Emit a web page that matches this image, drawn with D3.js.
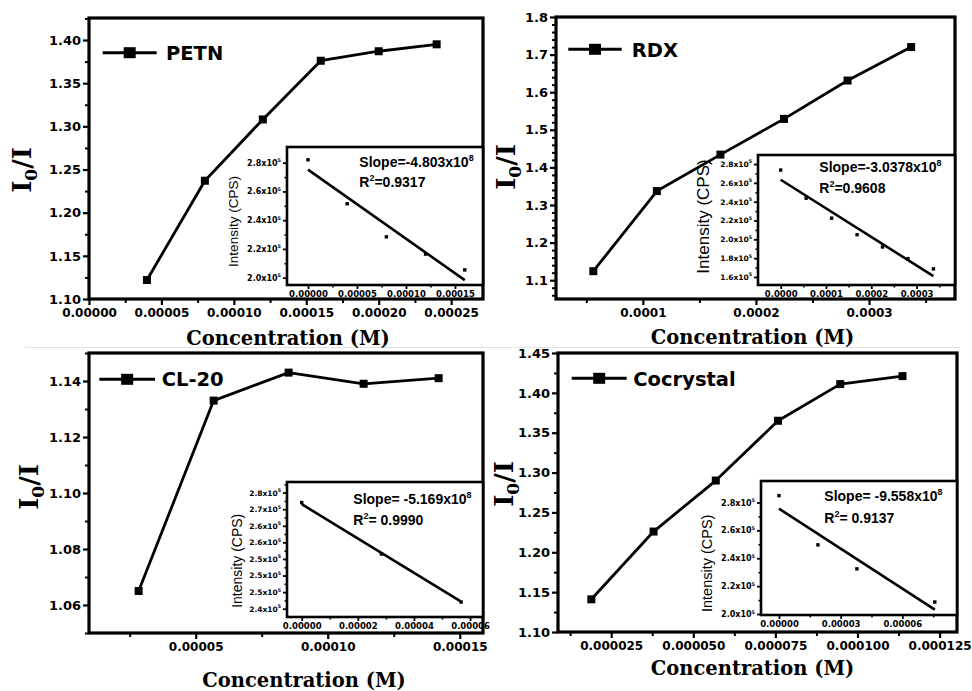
<!DOCTYPE html>
<html>
<head>
<meta charset="utf-8">
<script src="https://cdn.jsdelivr.net/npm/d3@7"></script>
<style>
  body { margin: 0; background: #fff; }
  svg { display: block; }
</style>
</head>
<body>
<svg id="chart" width="972" height="691"></svg>
<script>
// ---------- PETN ----------
const petnConc = [0.00004, 0.00008, 0.00012, 0.00016, 0.00020, 0.00024];
const petnRatio = [1.122, 1.237, 1.308, 1.376, 1.387, 1.395];
const petnXTicks = [0, 0.00005, 0.00010, 0.00015, 0.00020, 0.00025];
const petnXMinor = [0.000025, 0.000075, 0.000125, 0.000175, 0.000225];
const petnYTicks = [1.10, 1.15, 1.20, 1.25, 1.30, 1.35, 1.40];
const petnYMinor = [1.125, 1.175, 1.225, 1.275, 1.325, 1.375, 1.425];
const petnFitConc = [0, 0.00004, 0.00008, 0.00012, 0.00016];
const petnFitIntensity = [282000, 251400, 228400, 216400, 205400];
const petnFitXTicks = [0, 0.00005, 0.00010, 0.00015];
const petnFitXMinor = [0.000025, 0.000075, 0.000125];
const petnFitYTicks = [200000, 220000, 240000, 260000, 280000];
const petnFitYMinor = [210000, 230000, 250000, 270000];
const petnSlope = "-4.803";
const petnR2 = "0.9317";

// ---------- RDX ----------
const rdxConc = [0.0000562, 0.0001124, 0.0001686, 0.0002248, 0.0002810, 0.0003372];
const rdxRatio = [1.124, 1.337, 1.434, 1.529, 1.631, 1.720];
const rdxXTicks = [0.0001, 0.0002, 0.0003];
const rdxXMinor = [0.00005, 0.00015, 0.00025, 0.00035];
const rdxYTicks = [1.1, 1.2, 1.3, 1.4, 1.5, 1.6, 1.7, 1.8];
const rdxYMinor = [1.06, 1.08, 1.12, 1.14, 1.16, 1.18, 1.22, 1.24, 1.26, 1.28, 1.32, 1.34, 1.36, 1.38,
                   1.42, 1.44, 1.46, 1.48, 1.52, 1.54, 1.56, 1.58, 1.62, 1.64, 1.66, 1.68, 1.72, 1.74, 1.76, 1.78];
const rdxFitConc = [0, 0.0000562, 0.0001124, 0.0001686, 0.0002248, 0.0002810, 0.0003372];
const rdxFitIntensity = [273600, 243700, 222500, 204900, 191900, 179500, 168600];
const rdxFitXTicks = [0, 0.0001, 0.0002, 0.0003];
const rdxFitXMinor = [0.00005, 0.00015, 0.00025, 0.00035];
const rdxFitYTicks = [160000, 180000, 200000, 220000, 240000, 260000, 280000];
const rdxFitYMinor = [170000, 190000, 210000, 230000, 250000, 270000];
const rdxSlope = "-3.0378";
const rdxR2 = "0.9608";

// ---------- CL-20 ----------
const cl20Conc = [0.0000284, 0.0000568, 0.0000852, 0.0001136, 0.0001420];
const cl20Ratio = [1.065, 1.133, 1.143, 1.139, 1.141];
const cl20XTicks = [0.00005, 0.00010, 0.00015];
const cl20XMinor = [0.000025, 0.000075, 0.000125];
const cl20YTicks = [1.06, 1.08, 1.10, 1.12, 1.14];
const cl20YMinor = [1.05, 1.07, 1.09, 1.11, 1.13, 1.15];
const cl20FitConc = [0, 0.0000284, 0.0000568];
const cl20FitIntensity = [272000, 256500, 242000];
const cl20FitXTicks = [0, 0.00002, 0.00004, 0.00006];
const cl20FitXMinor = [0.00001, 0.00003, 0.00005];
const cl20FitYTicks = [240000, 245000, 250000, 255000, 260000, 265000, 270000, 275000];
const cl20FitYTickLabels = ["2.4", "2.5", "2.5", "2.5", "2.6", "2.6", "2.7", "2.8"];
const cl20FitYMinor = [242500, 247500, 252500, 257500, 262500, 267500, 272500, 277500];
const cl20Slope = "-5.169";
const cl20R2 = "0.9990";

// ---------- Cocrystal ----------
const cocConc = [0.00001895, 0.0000379, 0.00005685, 0.0000758, 0.00009475, 0.0001137];
const cocRatio = [1.141, 1.226, 1.290, 1.365, 1.411, 1.421];
const cocXTicks = [0.000025, 0.000050, 0.000075, 0.000100, 0.000125];
const cocXMinor = [0.0000125, 0.0000375, 0.0000625, 0.0000875, 0.0001125];
const cocYTicks = [1.10, 1.15, 1.20, 1.25, 1.30, 1.35, 1.40, 1.45];
const cocYMinor = [1.125, 1.175, 1.225, 1.275, 1.325, 1.375, 1.425];
const cocFitConc = [0, 0.00001895, 0.0000379, 0.0000758];
const cocFitIntensity = [284900, 249600, 232400, 208600];
const cocFitXTicks = [0, 0.00003, 0.00006];
const cocFitXMinor = [0.000015, 0.000045, 0.000075];
const cocFitYTicks = [200000, 220000, 240000, 260000, 280000];
const cocFitYMinor = [210000, 230000, 250000, 270000];
const cocSlope = "-9.558";
const cocR2 = "0.9137";

const SANS = "'DejaVu Sans', sans-serif";
const ARIAL = "'Liberation Sans', Arial, sans-serif";
const SERIF = "'DejaVu Serif', serif";

const svg = d3.select("#chart");

// faint page seam under the top row
svg.append("line").attr("x1", 25).attr("x2", 960).attr("y1", 347.5).attr("y2", 347.5)
  .attr("stroke", "#e2e2e2").attr("stroke-width", 1);

function styleAxis(sel, w) {
  sel.select(".domain").remove();
  sel.selectAll(".tick line").attr("stroke", "#000").attr("stroke-width", w);
}

function drawPanel(p) {
  const g = svg.append("g");
  const f = p.frame;
  const x = d3.scaleLinear().domain(p.xDomain).range([f.l, f.r]);
  const y = d3.scaleLinear().domain(p.yDomain).range([f.b, f.t]);

  // axes: minor then major ticks, pointing outward
  g.append("g").attr("transform", `translate(0,${f.b})`)
    .call(d3.axisBottom(x).tickValues(p.xMinor).tickSize(4).tickFormat(""))
    .call(s => styleAxis(s, 2));
  g.append("g").attr("transform", `translate(0,${f.b})`)
    .call(d3.axisBottom(x).tickValues(p.xTicks).tickSize(6).tickPadding(3).tickFormat(p.xFmt))
    .call(s => styleAxis(s, 2.2))
    .call(s => s.selectAll("text").attr("font-family", SANS).attr("font-weight", "bold")
      .attr("font-size", p.xFontSize).attr("fill", "#000"));
  g.append("g").attr("transform", `translate(${f.l},0)`)
    .call(d3.axisLeft(y).tickValues(p.yMinor).tickSize(4).tickFormat(""))
    .call(s => styleAxis(s, 2));
  g.append("g").attr("transform", `translate(${f.l},0)`)
    .call(d3.axisLeft(y).tickValues(p.yTicks).tickSize(6).tickPadding(2).tickFormat(p.yFmt))
    .call(s => styleAxis(s, 2.2))
    .call(s => s.selectAll("text").attr("font-family", SANS).attr("font-weight", "bold")
      .attr("font-size", 13).attr("fill", "#000"));

  g.append("rect").attr("x", f.l).attr("y", f.t).attr("width", f.r - f.l).attr("height", f.b - f.t)
    .attr("fill", "none").attr("stroke", "#000").attr("stroke-width", 3.2);

  const pts = p.conc.map((c, i) => [c, p.ratio[i]]);
  g.append("path").datum(pts)
    .attr("d", d3.line().x(d => x(d[0])).y(d => y(d[1])))
    .attr("fill", "none").attr("stroke", "#000").attr("stroke-width", 2.8).attr("stroke-linejoin", "round");
  g.selectAll("rect.mk").data(pts).join("rect").attr("class", "mk")
    .attr("x", d => x(d[0]) - 4).attr("y", d => y(d[1]) - 4)
    .attr("width", 8).attr("height", 8).attr("fill", "#000");

  // legend
  const L = p.legend;
  g.append("line").attr("x1", L.x1).attr("x2", L.x2).attr("y1", L.y).attr("y2", L.y)
    .attr("stroke", "#000").attr("stroke-width", 3);
  g.append("rect").attr("x", (L.x1 + L.x2) / 2 - 6).attr("y", L.y - 5.5)
    .attr("width", 12).attr("height", 11).attr("fill", "#000");
  g.append("text").attr("x", L.tx).attr("y", L.ty).text(p.name)
    .attr("font-family", SANS).attr("font-weight", "bold").attr("font-size", 19.5).attr("fill", "#000");

  // axis titles
  g.append("text").attr("x", p.xTitle[0]).attr("y", p.xTitle[1]).attr("text-anchor", "middle")
    .attr("font-family", SERIF).attr("font-weight", "bold").attr("font-size", 19.5).attr("fill", "#000")
    .text("Concentration (M)");
  const yt = g.append("text")
    .attr("transform", `translate(${p.yTitle[0]},${p.yTitle[1]}) rotate(-90)`)
    .attr("text-anchor", "middle")
    .attr("font-family", SERIF).attr("font-weight", "bold").attr("font-size", 26).attr("fill", "#000");
  yt.append("tspan").text("I");
  yt.append("tspan").attr("font-size", 17).attr("dy", 6).text("0");
  yt.append("tspan").attr("dy", -6).text("/I");

  drawInset(g, p.inset);
}

function drawInset(g, q) {
  const f = q.frame;
  const x = d3.scaleLinear().domain(q.xDomain).range([f.l, f.r]);
  const y = d3.scaleLinear().domain(q.yDomain).range([f.b, f.t]);

  g.append("rect").attr("x", f.l).attr("y", f.t).attr("width", f.r - f.l).attr("height", f.b - f.t)
    .attr("fill", "#fff");

  g.append("g").attr("transform", `translate(0,${f.b})`)
    .call(d3.axisBottom(x).tickValues(q.xMinor).tickSize(2.5).tickFormat(""))
    .call(s => styleAxis(s, 1.6));
  g.append("g").attr("transform", `translate(0,${f.b})`)
    .call(d3.axisBottom(x).tickValues(q.xTicks).tickSize(4).tickPadding(1.5).tickFormat(q.xFmt))
    .call(s => styleAxis(s, 1.8))
    .call(s => s.selectAll("text").attr("font-family", SANS).attr("font-weight", "bold")
      .attr("font-size", 8.5).attr("fill", "#000"));
  g.append("g").attr("transform", `translate(${f.l},0)`)
    .call(d3.axisLeft(y).tickValues(q.yMinor).tickSize(2.5).tickFormat(""))
    .call(s => styleAxis(s, 1.6));
  const ya = g.append("g").attr("transform", `translate(${f.l},0)`)
    .call(d3.axisLeft(y).tickValues(q.yTicks).tickSize(4).tickPadding(2).tickFormat(""))
    .call(s => styleAxis(s, 1.8));
  ya.selectAll(".tick text").each(function (d, i) {
    const t = d3.select(this).text(null)
      .attr("font-family", SANS).attr("font-weight", "bold").attr("font-size", q.yFontSize).attr("fill", "#000");
    const m = q.yLabels ? q.yLabels[i] : (d / 1e5).toFixed(1);
    t.append("tspan").text(m + "x10");
    t.append("tspan").attr("font-size", q.yFontSize * 0.62).attr("dy", -3.5).text("5");
  });

  g.append("rect").attr("x", f.l).attr("y", f.t).attr("width", f.r - f.l).attr("height", f.b - f.t)
    .attr("fill", "none").attr("stroke", "#000").attr("stroke-width", 2.6);

  // fitted line from the stated slope, through the mean of the points
  const slope = +q.slope * 1e8;
  const mx = d3.mean(q.conc), my = d3.mean(q.intensity);
  const b0 = my - slope * mx;
  const xEnd = d3.max(q.conc);
  g.append("line")
    .attr("x1", x(0)).attr("y1", y(b0))
    .attr("x2", x(xEnd)).attr("y2", y(b0 + slope * xEnd))
    .attr("stroke", "#000").attr("stroke-width", 2.6);

  g.selectAll(null).data(q.conc.map((c, i) => [c, q.intensity[i]])).join("rect")
    .attr("x", d => x(d[0]) - 1.7).attr("y", d => y(d[1]) - 1.7)
    .attr("width", 3.4).attr("height", 3.4).attr("fill", "#000");

  // inset axis title
  g.append("text")
    .attr("transform", `translate(${q.yTitle[0]},${q.yTitle[1]}) rotate(-90)`)
    .attr("text-anchor", "middle").attr("dominant-baseline", "central")
    .attr("font-family", ARIAL).attr("font-size", q.yTitleSize).attr("fill", "#000")
    .text("Intensity (CPS)");

  // fit annotation
  const a1 = g.append("text").attr("x", q.note[0]).attr("y", q.note[1])
    .attr("font-family", ARIAL).attr("font-weight", "bold").attr("font-size", 14).attr("fill", "#000");
  a1.append("tspan").text("Slope=" + q.gap + q.slope + "x10");
  a1.append("tspan").attr("font-size", 9).attr("dy", -6).text("8");
  const a2 = g.append("text").attr("x", q.note[0]).attr("y", q.note[2])
    .attr("font-family", ARIAL).attr("font-weight", "bold").attr("font-size", 14).attr("fill", "#000");
  a2.append("tspan").text("R");
  a2.append("tspan").attr("font-size", 9).attr("dy", -6).text("2");
  a2.append("tspan").attr("dy", 6).text("=" + q.gap + q.r2);
}

const f5 = d3.format(".5f"), f4 = d3.format(".4f"), f6 = d3.format(".6f");
const f2 = d3.format(".2f"), f1 = d3.format(".1f");

drawPanel({
  name: "PETN", conc: petnConc, ratio: petnRatio,
  frame: { l: 89, t: 18, r: 483, b: 299 },
  xDomain: [0, 0.000272], yDomain: [1.10, 1.4255],
  xTicks: petnXTicks, xMinor: petnXMinor, yTicks: petnYTicks, yMinor: petnYMinor,
  xFmt: f5, yFmt: f2, xFontSize: 12,
  legend: { x1: 102.7, x2: 156.7, y: 52.7, tx: 166, ty: 60 },
  xTitle: [288, 345], yTitle: [31, 170],
  inset: {
    frame: { l: 287, t: 147, r: 483, b: 285 },
    xDomain: [-0.0000214, 0.0001786], yDomain: [194900, 290900],
    xTicks: petnFitXTicks, xMinor: petnFitXMinor, yTicks: petnFitYTicks, yMinor: petnFitYMinor,
    xFmt: f5, yFontSize: 8,
    conc: petnFitConc, intensity: petnFitIntensity,
    slope: petnSlope, r2: petnR2, gap: "",
    note: [359.3, 166.7, 187.3], yTitle: [233, 221.5], yTitleSize: 13.5
  }
});

drawPanel({
  name: "RDX", conc: rdxConc, ratio: rdxRatio,
  frame: { l: 556, t: 17, r: 955, b: 299 },
  xDomain: [0.0000232, 0.000376], yDomain: [1.05, 1.80],
  xTicks: rdxXTicks, xMinor: rdxXMinor, yTicks: rdxYTicks, yMinor: rdxYMinor,
  xFmt: f4, yFmt: f1, xFontSize: 12,
  legend: { x1: 568.3, x2: 621.7, y: 49.3, tx: 631.7, ty: 57.3 },
  xTitle: [752.5, 344], yTitle: [515, 167],
  inset: {
    frame: { l: 758, t: 155, r: 955, b: 285 },
    xDomain: [-0.0000501, 0.0003848], yDomain: [151500, 289600],
    xTicks: rdxFitXTicks, xMinor: rdxFitXMinor, yTicks: rdxFitYTicks, yMinor: rdxFitYMinor,
    xFmt: f4, yFontSize: 7.5,
    conc: rdxFitConc, intensity: rdxFitIntensity,
    slope: rdxSlope, r2: rdxR2, gap: "",
    note: [819.3, 171.7, 193.3], yTitle: [703, 216.5], yTitleSize: 17
  }
});

drawPanel({
  name: "CL-20", conc: cl20Conc, ratio: cl20Ratio,
  frame: { l: 89, t: 353, r: 483, b: 633 },
  xDomain: [0.0000096, 0.0001588], yDomain: [1.05, 1.15],
  xTicks: cl20XTicks, xMinor: cl20XMinor, yTicks: cl20YTicks, yMinor: cl20YMinor,
  xFmt: f5, yFmt: f2, xFontSize: 12,
  legend: { x1: 99.3, x2: 155, y: 379.3, tx: 161.7, ty: 385.7 },
  xTitle: [304, 687], yTitle: [38, 487],
  inset: {
    frame: { l: 287, t: 482, r: 483, b: 617 },
    xDomain: [-0.00000524, 0.0000646], yDomain: [237500, 278200],
    xTicks: cl20FitXTicks, xMinor: cl20FitXMinor, yTicks: cl20FitYTicks, yMinor: cl20FitYMinor,
    yLabels: cl20FitYTickLabels,
    xFmt: f5, yFontSize: 7.5,
    conc: cl20FitConc, intensity: cl20FitIntensity,
    slope: cl20Slope, r2: cl20R2, gap: " ",
    note: [353.3, 504, 525], yTitle: [236.7, 560.8], yTitleSize: 14
  }
});

drawPanel({
  name: "Cocrystal", conc: cocConc, ratio: cocRatio,
  frame: { l: 558, t: 353, r: 957, b: 632 },
  xDomain: [0.0000088, 0.0001303], yDomain: [1.10, 1.45],
  xTicks: cocXTicks, xMinor: cocXMinor, yTicks: cocYTicks, yMinor: cocYMinor,
  xFmt: f6, yFmt: f2, xFontSize: 12,
  legend: { x1: 571.7, x2: 626.7, y: 378.3, tx: 633.3, ty: 386 },
  xTitle: [752.5, 675], yTitle: [513, 484],
  inset: {
    frame: { l: 761, t: 481, r: 957, b: 615 },
    xDomain: [-0.00000875, 0.0000866], yDomain: [199300, 295400],
    xTicks: cocFitXTicks, xMinor: cocFitXMinor, yTicks: cocFitYTicks, yMinor: cocFitYMinor,
    xFmt: f5, yFontSize: 8,
    conc: cocFitConc, intensity: cocFitIntensity,
    slope: cocSlope, r2: cocR2, gap: " ",
    note: [824.3, 500.7, 522.7], yTitle: [706.7, 563.3], yTitleSize: 14.5
  }
});
</script>
</body>
</html>
